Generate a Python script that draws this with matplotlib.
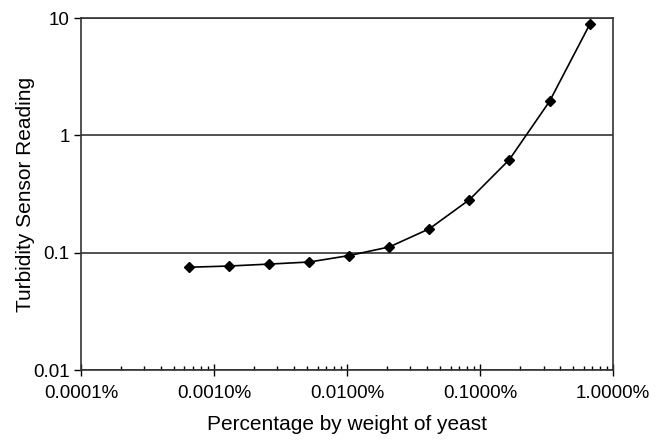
import matplotlib.pyplot as plt
import numpy as np
from matplotlib.ticker import FuncFormatter, LogLocator, NullFormatter

plt.rcParams['font.family'] = ['Liberation Sans', 'DejaVu Sans']

# percentage by weight of yeast (%), doubling dilution series
yeast_pct = np.array([0.00065, 0.0013, 0.0026, 0.0052, 0.0104, 0.0208,
                      0.0416, 0.0832, 0.166, 0.333, 0.67])
# turbidity sensor reading
turbidity = np.array([0.0752, 0.077, 0.080, 0.0833, 0.0946, 0.112,
                      0.160, 0.283, 0.621, 1.95, 8.9])

x_ticks = [0.0001, 0.001, 0.01, 0.1, 1.0]
y_ticks = [0.01, 0.1, 1, 10]
y_labels = ['0.01', '0.1', '1', '10']

fig = plt.figure(figsize=(6.61, 4.40), dpi=100)
ax = fig.add_axes([0.1225, 0.159, 0.805, 0.8])

ax.plot(yeast_pct, turbidity, color='black', lw=1.2, marker='D', ms=5,
        mfc='black', mec='black')

ax.set_xscale('log')
ax.set_yscale('log')
ax.set_xlim(0.0001, 1.0)
ax.set_ylim(0.01, 10)

ax.set_xticks(x_ticks)
ax.xaxis.set_major_formatter(FuncFormatter(lambda v, p: f'{v:.4f}%'))
ax.xaxis.set_minor_locator(LogLocator(base=10, subs=np.arange(2, 10)))
ax.xaxis.set_minor_formatter(NullFormatter())

ax.set_yticks(y_ticks)
ax.set_yticklabels(y_labels)
ax.yaxis.set_minor_locator(plt.NullLocator())

ax.grid(axis='y', which='major', color='#333333', lw=1.2)

ax.tick_params(axis='x', which='major', direction='inout', length=8,
               width=1, labelsize=13.5, pad=7)
ax.tick_params(axis='x', which='minor', direction='in', length=3, width=1)
ax.tick_params(axis='y', which='major', direction='out', length=5,
               width=1, labelsize=13.5, pad=3)

for s in ax.spines.values():
    s.set_color('#333333')
    s.set_linewidth(1.2)

ax.set_xlabel('Percentage by weight of yeast', fontsize=15, labelpad=9)
ax.set_ylabel('Turbidity Sensor Reading', fontsize=15, labelpad=-1)

fig.savefig('out.png', dpi=100)
